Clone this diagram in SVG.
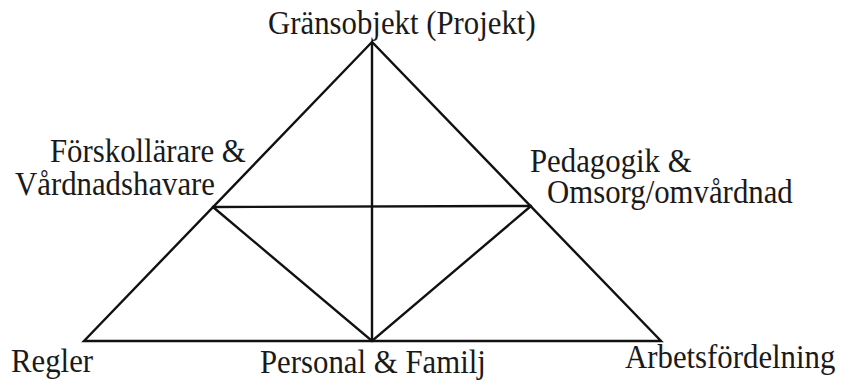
<svg xmlns="http://www.w3.org/2000/svg" width="841" height="383" viewBox="0 0 841 383">
<style>
text{font-family:'Liberation Serif','Times New Roman',Times,serif;font-size:30.8px;fill:#1a1a1a}
.ln{stroke:#111;stroke-width:2.4;fill:none;stroke-linejoin:miter;stroke-linecap:round}
</style>
<rect width="841" height="383" fill="#ffffff"/>
<g id="connectors">
<path class="ln" d="M372,42 L84,341 L661,341 Z"/>
<line class="ln" x1="372" y1="42" x2="372" y2="341"/>
<line class="ln" x1="213" y1="207" x2="531" y2="206"/>
<polyline class="ln" points="213,207 372,341 531,206"/>
</g>
<g id="node-top"><text transform="matrix(1,0,0,1.08,268,34)">Gränsobjekt (Projekt)</text></g>
<g id="node-left-mid"><text transform="matrix(1,0,0,1.08,50,162)">Förskollärare &amp;</text><text transform="matrix(1,0,0,1.08,15,195)">Vårdnadshavare</text></g>
<g id="node-right-mid"><text transform="matrix(1,0,0,1.08,530,172)">Pedagogik &amp;</text><text transform="matrix(1,0,0,1.08,547,203)">Omsorg/omvårdnad</text></g>
<g id="node-left"><text transform="matrix(1,0,0,1.08,11,372)">Regler</text></g>
<g id="node-bottom"><text transform="matrix(1,0,0,1.08,260,373)">Personal &amp; Familj</text></g>
<g id="node-right"><text transform="matrix(1,0,0,1.08,625,368)">Arbetsfördelning</text></g>
</svg>
